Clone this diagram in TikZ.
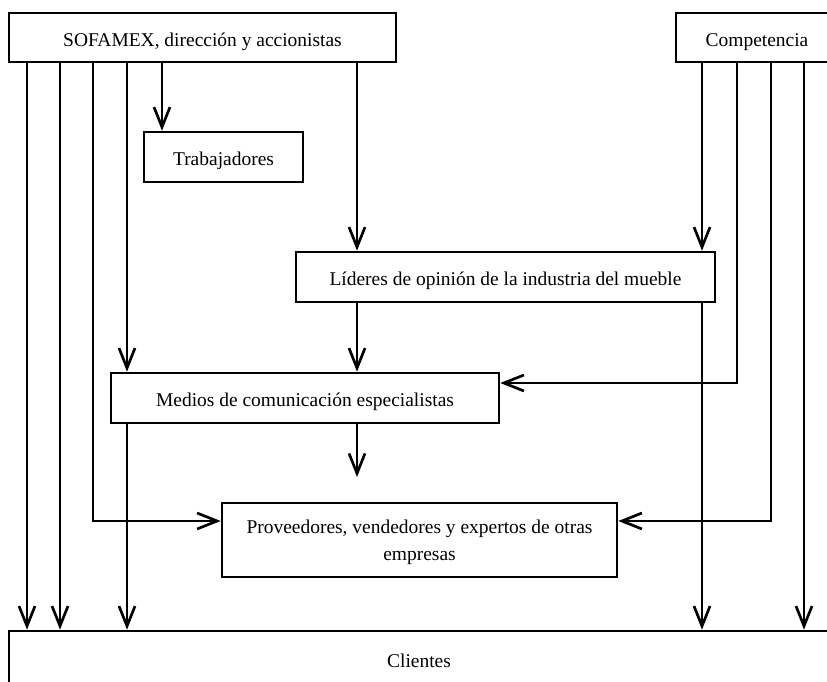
\documentclass[tikz,border=0pt]{standalone}
\usepackage{fontspec}
\setmainfont{Liberation Serif}
\usetikzlibrary{arrows.meta,calc}

\tikzset{
  box/.style={draw, line width=2pt, rectangle, inner sep=0pt, align=center,
    text height=12.8pt, text depth=0pt,
    font=\fontsize{14.6}{20.25}\selectfont},
  arr/.style={line width=2pt, -{Straight Barb[length=15pt,width=12pt,line width=2pt]}}
}

\begin{document}
\begin{tikzpicture}[x=0.75pt,y=-0.75pt]
  \useasboundingbox (0,0) rectangle (827,681);
  \clip (0,0) rectangle (827,681);

  % boxes
  \node[box, minimum width=290.25pt, minimum height=36.75pt] (S) at (202.5,37.5)
    {SOFAMEX, dirección y accionistas};
  \node[box, minimum width=121.5pt, minimum height=36.75pt] (C) at (757,37.5)
    {Competencia};
  \node[box, minimum width=119.25pt, minimum height=37.5pt] (T) at (223.5,157)
    {Trabajadores};
  \node[box, minimum width=314.25pt, minimum height=37.5pt] (L) at (505.5,277)
    {Líderes de opinión de la industria del mueble};
  \node[box, minimum width=291pt, minimum height=37.5pt] (M) at (305,398)
    {Medios de comunicación especialistas};
  \node[box, text height=30pt, minimum width=296.25pt, minimum height=55.5pt] (P) at (419.5,540)
    {Proveedores, vendedores y expertos de otras\\empresas};
  \node[box, minimum width=615pt, minimum height=41.25pt] (K) at (419,658.5)
    {Clientes};

  % columns used by the connectors
  \coordinate (xa) at (27,0);
  \coordinate (xb) at (60,0);
  \coordinate (xc) at (93,0);
  \coordinate (xd) at (127,0);
  \coordinate (xe) at (162,0);
  \coordinate (xf) at (357,0);
  \coordinate (xg) at (702,0);
  \coordinate (xh) at (737,0);
  \coordinate (xi) at (771,0);
  \coordinate (xj) at (804,0);
  % rows of the side entries
  \coordinate (ym) at (0,383);
  \coordinate (yp) at (0,521);
  \coordinate (mp) at (357,477);

  % from SOFAMEX
  \draw[arr] (xa |- S.south) -- (xa |- K.north);
  \draw[arr] (xb |- S.south) -- (xb |- K.north);
  \draw[arr] (xc |- S.south) |- (P.west |- yp);
  \draw[arr] (xd |- S.south) -- (xd |- M.north);
  \draw[arr] (xe |- S.south) -- (xe |- T.north);
  \draw[arr] (xf |- S.south) -- (xf |- L.north);

  % from Competencia
  \draw[arr] (xg |- C.south) -- (xg |- L.north);
  \draw[arr] (xh |- C.south) |- (M.east |- ym);
  \draw[arr] (xi |- C.south) |- (P.east |- yp);
  \draw[arr] (xj |- C.south) -- (xj |- K.north);

  % from the middle boxes
  \draw[arr] (xf |- L.south) -- (xf |- M.north);
  \draw[arr] (xg |- L.south) -- (xg |- K.north);
  \draw[arr] (xf |- M.south) -- (mp);
  \draw[arr] (xd |- M.south) -- (xd |- K.north);
\end{tikzpicture}
\end{document}
